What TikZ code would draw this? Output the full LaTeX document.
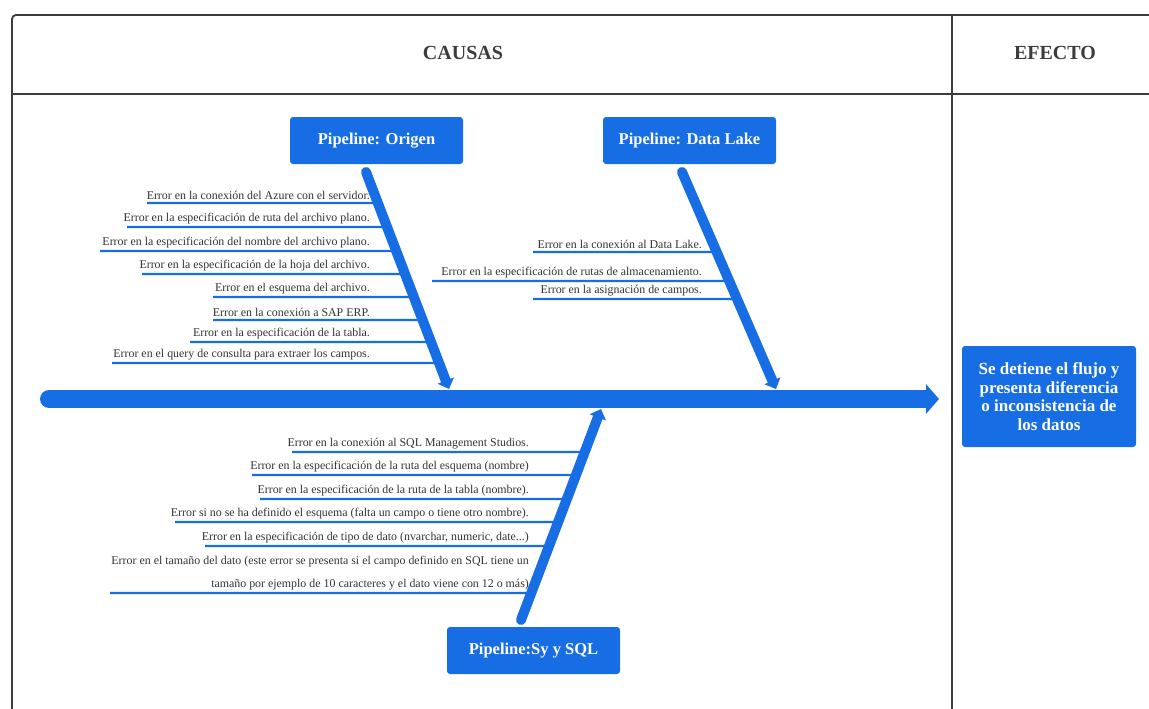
\documentclass[tikz,border=0pt]{standalone}
\usepackage{fontspec}
\setmainfont{Liberation Serif}
\usetikzlibrary{arrows.meta,positioning,calc}
\definecolor{fbblue}{HTML}{176DE3}
\definecolor{fbgray}{HTML}{3C3C3C}

\begin{document}
\begin{tikzpicture}[x=1pt,y=-1pt,
      pipe/.style={fill=fbblue,rounded corners=3pt,text=white,inner sep=0pt,
        minimum width=173pt,minimum height=47pt,font=\fontsize{16.5}{19}\selectfont\bfseries},
      head/.style={font=\fontsize{20}{24}\selectfont\bfseries,text=fbgray},
      cause/.style={inner sep=1pt,font=\fontsize{11.9}{14}\selectfont,text=black!80,align=right},
      bone/.style={draw=fbblue,line width=10pt,line cap=round,-{Triangle[length=9pt,width=17pt]}},
      twig/.style={draw=fbblue,line width=2.2pt}]
    \useasboundingbox (0,0) rectangle (1149,709);
    % table frame
    \draw[fbgray,line width=1.8pt,rounded corners=4pt] (12,709) -- (12,15) -- (1149,15);
    \draw[fbgray,line width=1.8pt] (12,94) -- (1149,94);
    \draw[fbgray,line width=1.8pt] (952,15) -- (952,709);
    \node[head] (causas) at (463,53) {CAUSAS};
    \node[head] (efecto) at (1055,53) {EFECTO};
    % spine and effect
    \coordinate (sp0) at (49,399);
    \coordinate (sp1) at (939,399);
    \draw[fbblue,line width=18pt,line cap=round,-{Triangle[length=13pt,width=29pt]}] (sp0) -- (sp1);
    \node[pipe,minimum width=174pt,minimum height=101pt,align=center,
      font=\fontsize{17}{18.5}\selectfont\bfseries] (efecto-box) at (1049,396.5)
      {Se detiene el flujo y\\presenta diferencia\\o inconsistencia de\\los datos};
    % main causes
    \node[pipe] (origen) at (376.5,140.5) {Pipeline: Origen};
    \node[pipe] (lake) at (689.5,140.5) {Pipeline: Data Lake};
    \node[pipe] (sql) at (533.5,650.5) {Pipeline:Sy y SQL};
    \coordinate (o1) at (366,172);
    \coordinate (o2) at (449,389);
    \coordinate (d1) at (682,172);
    \coordinate (d2) at (776,389);
    \coordinate (s1) at (521,620);
    \coordinate (s2) at (601,409);
    \draw[bone] (o1) -- (o2);
    \draw[bone] (d1) -- (d2);
    \draw[bone] (s1) -- (s2);
    % sub causes
    \foreach \y/\xl/\txt [count=\i] in {
        203/147/{Error en la conexión del Azure con el servidor.},
        227/127/{Error en la especificación de ruta del archivo plano.},
        251/100/{Error en la especificación del nombre del archivo plano.},
        274/142/{Error en la especificación de la hoja del archivo.},
        297/213/{Error en el esquema del archivo.},
        320/213/{Error en la conexión a SAP ERP.},
        342/190/{Error en la especificación de la tabla.},
        363/112/{Error en el query de consulta para extraer los campos.}} {
      \coordinate (oc\i) at ($(o1)!{(\y-172)/217}!(o2)$);
      \coordinate (ol\i) at (\xl,\y);
      \draw[twig] (ol\i) -- (oc\i);
      \node[cause,anchor=south east] (ot\i) at (371,\y-2) {\txt};
    }
    \foreach \y/\xl/\txt [count=\i] in {
        252/533/{Error en la conexión al Data Lake.},
        281/432/{Error en la especificación de rutas de almacenamiento.},
        299/533/{Error en la asignación de campos.}} {
      \coordinate (dc\i) at ($(d1)!{(\y-172)/217}!(d2)$);
      \coordinate (dl\i) at (\xl,\y);
      \draw[twig] (dl\i) -- (dc\i);
      \node[cause,anchor=south east] (dt\i) at (703,\y-2) {\txt};
    }
    \foreach \y/\xl/\txt [count=\i] in {
        452/292/{Error en la conexión al SQL Management Studios.},
        475/252/{Error en la especificación de la ruta del esquema (nombre)},
        499/260/{Error en la especificación de la ruta de la tabla (nombre).},
        522/175/{Error si no se ha definido el esquema (falta un campo o tiene otro nombre).},
        546/205/{Error en la especificación de tipo de dato (nvarchar, numeric, date...)},
        593/110/{Error en el tamaño del dato (este error se presenta si el campo definido en SQL tiene un\\[9pt]tamaño por ejemplo de 10 caracteres y el dato viene con 12 o más)}} {
      \coordinate (sc\i) at ($(s1)!{(620-\y)/211}!(s2)$);
      \coordinate (sl\i) at (\xl,\y);
      \draw[twig] (sl\i) -- (sc\i);
      \node[cause,anchor=south east] (st\i) at (530,\y-2) {\txt};
    }
  \end{tikzpicture}
\end{document}
